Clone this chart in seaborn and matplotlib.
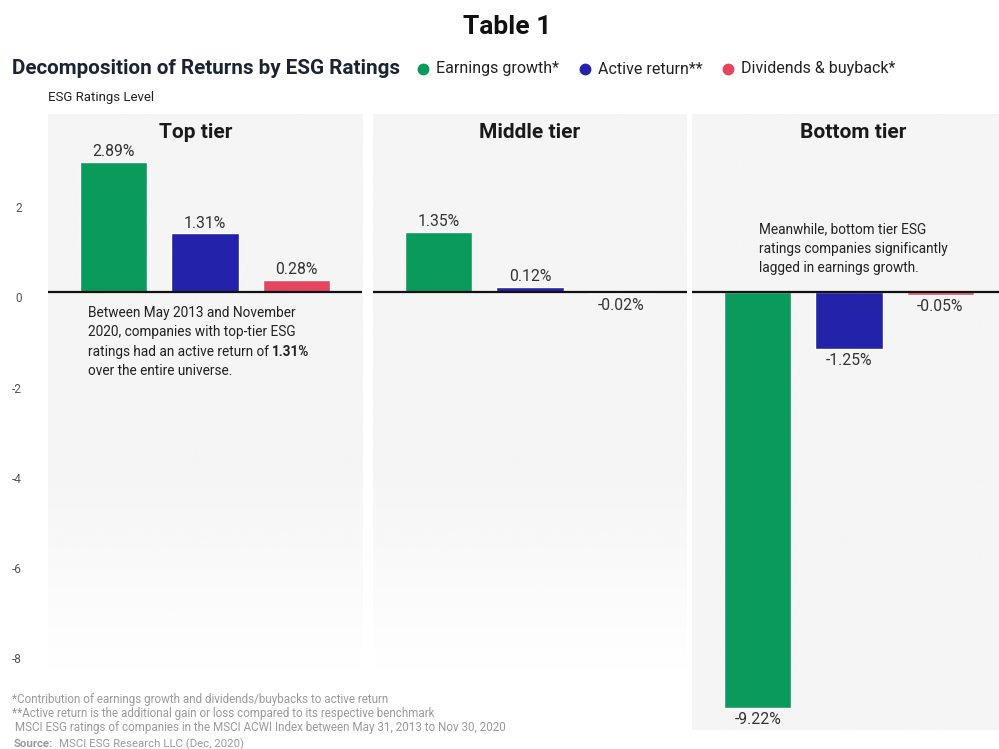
import matplotlib
matplotlib.use("Agg")
import matplotlib.pyplot as plt
import matplotlib.font_manager as fm
from matplotlib.lines import Line2D
from matplotlib.transforms import ScaledTranslation
import seaborn as sns
import pandas as pd
import numpy as np

# ---- data ----
tiers = ["Top tier", "Middle tier", "Bottom tier"]
components = ["Earnings growth*", "Active return**", "Dividends & buyback*"]
earnings_growth = [2.89, 1.35, -9.22]
active_return = [1.31, 0.12, -1.25]
dividends_buyback = [0.28, -0.02, -0.05]
yticks = [-8, -6, -4, -2, 0, 2]

colors = ["#0a9a5c", "#2323aa", "#e5455f"]

rows = []
for i, t in enumerate(tiers):
    for c, vals in zip(components, [earnings_growth, active_return, dividends_buyback]):
        rows.append({"tier": t, "component": c, "value": vals[i]})
df = pd.DataFrame(rows)

sns.set_theme(style="white")
names = {f.name for f in fm.fontManager.ttflist}
base = "Roboto" if "Roboto" in names else "DejaVu Sans"
plt.rcParams["font.family"] = [base, "DejaVu Sans"]

W, H = 999, 749
fig = plt.figure(figsize=(W / 100, H / 100), dpi=100)

def fx(px):
    return px / W

def fy(py):
    return 1 - py / H

ylim = (-9.71, 3.96)
panel_left = [48, 373, 692]
panel_w = 314
top_px, bot_px = 114, 730
title_dx = [-9, 0, 4]

bg = np.array([245, 245, 245]) / 255.0

def panel_bg(ax, fade):
    n = 200
    ypix = np.linspace(top_px, bot_px, n)
    alpha = np.ones(n)
    if fade:
        a0, a1 = 470, 670
        alpha = np.clip((a1 - ypix) / (a1 - a0), 0, 1)
    img = np.zeros((n, 2, 4))
    img[:, :, :3] = bg
    img[:, :, 3] = alpha[:, None]
    ax.imshow(img, extent=(0, 1, 0, 1), transform=ax.transAxes, aspect="auto",
              origin="upper", zorder=0, interpolation="bilinear")

for i, t in enumerate(tiers):
    ax = fig.add_axes([fx(panel_left[i]), fy(bot_px), fx(panel_w), (bot_px - top_px) / H])
    ax.set_facecolor("none")
    sub = df[df["tier"] == t]
    sns.barplot(data=sub, x="component", y="value", hue="component",
                order=components, hue_order=components, palette=colors,
                width=0.74, ax=ax, legend=False, saturation=1, zorder=2)
    panel_bg(ax, fade=(i < 2))
    ax.set_xlim(-0.72, 2.72)
    ax.set_ylim(*ylim)
    ax.axhline(0, color="#111111", lw=1.6, zorder=3)
    for s in ax.spines.values():
        s.set_visible(False)
    ax.set_xticks([])
    ax.set_xlabel("")
    ax.set_ylabel("")
    if i == 0:
        ax.set_yticks(yticks)
        ax.set_yticklabels([str(v) for v in yticks])
        ax.tick_params(axis="y", length=0, pad=19, labelsize=8.5, labelcolor="#555555")
        for lab in ax.get_yticklabels():
            lab.set_transform(lab.get_transform() + ScaledTranslation(0, -5 / 100, fig.dpi_scale_trans))
    else:
        ax.set_yticks([])
    for j, c in enumerate(components):
        v = sub[sub["component"] == c]["value"].iloc[0]
        if v >= 0:
            ax.annotate(f"{v:.2f}%", (j, v), xytext=(0, 2), textcoords="offset points",
                        ha="center", va="bottom", fontsize=11.3, color="#333333")
        else:
            ax.annotate(f"{v:.2f}%", (j, v), xytext=(0, -3), textcoords="offset points",
                        ha="center", va="top", fontsize=11.3, color="#333333")
    ax.text(0.5, 1, t, transform=ax.transAxes + ScaledTranslation(title_dx[i] / 100, -19 / 100, fig.dpi_scale_trans),
            ha="center", va="center", fontsize=15, fontweight="bold", color="#1a1a1a")

# ---- titles ----
fig.text(fx(507), fy(27), "Table 1", ha="center", va="center", fontsize=19,
         fontweight="bold", color="#111111")
fig.text(fx(12), fy(69), "Decomposition of Returns by ESG Ratings", ha="left", va="center",
         fontsize=14.9, fontweight="bold", color="#1b2433")
fig.text(fx(48), fy(98), "ESG Ratings Level", ha="left", va="center", fontsize=9.5,
         color="#222222")

# legend
leg_dots = [423, 585, 728]
for x, c, lab in zip(leg_dots, colors, components):
    fig.add_artist(Line2D([fx(x)], [fy(69)], marker="o", markersize=7.5, color=c,
                          linestyle="none", transform=fig.transFigure))
    fig.text(fx(x + 13), fy(69), lab, ha="left", va="center", fontsize=11.5, color="#222222")

# annotations
lines1 = ["Between May 2013 and November", "2020, companies with top-tier ESG",
          "ratings had an active return of ", "over the entire universe."]
ys1 = [313, 332, 352, 371]
fig.canvas.draw()
renderer = fig.canvas.get_renderer()
for k, (ln, yy) in enumerate(zip(lines1, ys1)):
    tx = fig.text(fx(88), fy(yy), ln, ha="left", va="center", fontsize=9.8,
                  color="#222222")
    if k == 2:
        bb = tx.get_window_extent(renderer=renderer)
        fig.text(bb.x1 / W, fy(yy), "1.31%", ha="left", va="center", fontsize=9.8,
                 color="#222222", fontweight="bold")

lines2 = ["Meanwhile, bottom tier ESG", "ratings companies significantly",
          "lagged in earnings growth."]
ys2 = [229, 249, 268]
for ln, yy in zip(lines2, ys2):
    fig.text(fx(759), fy(yy), ln, ha="left", va="center", fontsize=9.8,
             color="#222222")

# footnotes
notes = ["*Contribution of earnings growth and dividends/buybacks to active return",
         "**Active return is the additional gain or loss compared to its respective benchmark",
         " MSCI ESG ratings of companies in the MSCI ACWI Index between May 31, 2013 to Nov 30, 2020"]
for ln, yy in zip(notes, [699, 713, 728]):
    fig.text(fx(12), fy(yy), ln, ha="left", va="center", fontsize=8.4, color="#9a9a9a")
src = fig.text(fx(14), fy(744), "Source:", ha="left", va="center", fontsize=8.2,
               color="#9a9a9a", fontweight="bold")
fig.canvas.draw()
bb = src.get_window_extent(renderer=fig.canvas.get_renderer())
fig.text(bb.x1 / W + fx(6), fy(744), "MSCI ESG Research LLC (Dec, 2020)", ha="left",
         va="center", fontsize=8.2, color="#9a9a9a")

fig.savefig("out.png", dpi=100, facecolor="white")
